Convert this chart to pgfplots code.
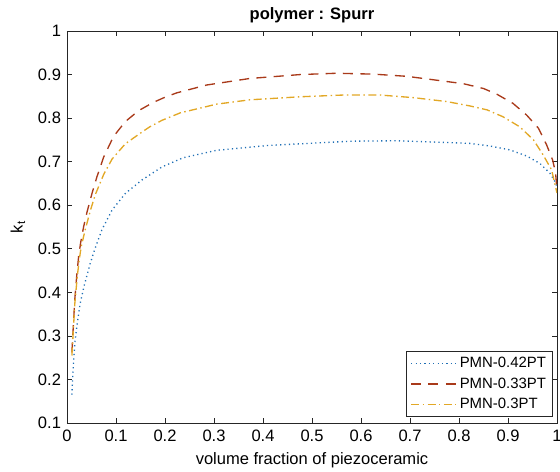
\documentclass[border=0pt]{standalone}
\usepackage{fontspec}
\setmainfont{Liberation Sans}
\usepackage{pgfplots}
\pgfplotsset{compat=1.18}
\definecolor{mblue}{HTML}{1F6FB5}
\definecolor{mred}{HTML}{A93A1A}
\definecolor{myellow}{HTML}{E2A826}
\definecolor{axgray}{HTML}{262626}

\pgfplotstableread{
x y
0.010 0.165
0.012 0.215
0.016 0.284
0.021 0.330
0.027 0.375
0.035 0.415
0.047 0.465
0.057 0.500
0.071 0.543
0.092 0.589
0.119 0.627
0.153 0.658
0.194 0.688
0.237 0.709
0.305 0.726
0.408 0.737
0.510 0.743
0.580 0.747
0.673 0.748
0.775 0.744
0.822 0.742
0.863 0.736
0.904 0.727
0.938 0.713
0.965 0.696
0.986 0.673
0.998 0.650
1.000 0.632
}\pmnA

\pgfplotstableread{
x y
0.010 0.262
0.013 0.325
0.016 0.385
0.020 0.440
0.024 0.485
0.028 0.515
0.034 0.551
0.041 0.585
0.051 0.627
0.061 0.665
0.075 0.711
0.095 0.758
0.119 0.792
0.146 0.817
0.176 0.836
0.200 0.848
0.224 0.858
0.285 0.876
0.373 0.891
0.476 0.900
0.550 0.903
0.625 0.901
0.693 0.896
0.741 0.889
0.809 0.879
0.850 0.868
0.877 0.855
0.910 0.834
0.938 0.807
0.962 0.777
0.979 0.738
0.991 0.704
0.997 0.675
1.000 0.636
}\pmnB

\pgfplotstableread{
x y
0.010 0.255
0.013 0.315
0.016 0.375
0.021 0.437
0.025 0.475
0.029 0.505
0.037 0.543
0.048 0.589
0.058 0.625
0.075 0.671
0.092 0.706
0.119 0.741
0.153 0.768
0.169 0.780
0.194 0.795
0.231 0.812
0.305 0.832
0.373 0.842
0.476 0.849
0.564 0.853
0.639 0.853
0.707 0.847
0.775 0.838
0.822 0.828
0.857 0.819
0.890 0.803
0.924 0.780
0.952 0.750
0.972 0.715
0.989 0.681
1.000 0.628
}\pmnC

\begin{document}
\begin{tikzpicture}
\begin{axis}[
    scale only axis,
    width=367.5pt,
    height=294pt,
    xmin=0, xmax=1,
    ymin=0.1, ymax=1,
    xtick={0,0.1,...,1.01},
    ytick={0.1,0.2,...,1.01},
    tick align=inside,
    major tick length=3.75pt,
    axis line style={draw=axgray, line width=0.6pt},
    every tick/.style={draw=axgray, line width=0.5pt},
    /pgf/number format/assume math mode=true,
    tick label style={font=\fontsize{12.4}{14}\selectfont, text=black},
    xticklabel style={yshift=-2pt},
    yticklabel style={xshift=-1pt},
    every axis title shift=0pt,
    title={\bfseries polymer : Spurr},
    title style={font=\fontsize{12.4}{14}\selectfont, at={(axis description cs:0.5,1.041)}, anchor=center},
    xlabel={volume fraction of piezoceramic},
    xlabel style={font=\fontsize{12.4}{14}\selectfont, at={(axis description cs:0.5,-0.094)}, anchor=center},
    ylabel={k\textsubscript{t}},
    ylabel style={font=\fontsize{12.4}{14}\selectfont, at={(axis description cs:-0.1,0.5)}, anchor=center},
    legend style={
        at={(axis description cs:0.992,0.015)},
        anchor=south east,
        font=\fontsize{11.2}{13}\selectfont,
        draw=axgray,
        line width=0.5pt,
        inner xsep=3pt,
        inner ysep=2.5pt,
        row sep=2pt,
        legend cell align=left
    },
    legend image code/.code={\draw[#1] (0pt,0pt) -- (34pt,0pt);}
]
\addplot[mblue, line width=1pt, dash pattern=on 0.9pt off 2.4pt] table[x=x,y=y] {\pmnA};
\addplot[mred, line width=1pt, dash pattern=on 7.5pt off 5.5pt] table[x=x,y=y] {\pmnB};
\addplot[myellow, line width=1pt, dash pattern=on 6pt off 2.6pt on 1.1pt off 2.6pt] table[x=x,y=y] {\pmnC};
\legend{PMN-0.42PT, PMN-0.33PT, PMN-0.3PT}
\coordinate (sw) at (rel axis cs:0,0);
\end{axis}
\pgfresetboundingbox
\path (sw) ++(-50.25pt,-36pt) rectangle ++(420pt,353.25pt);
\end{tikzpicture}
\end{document}
